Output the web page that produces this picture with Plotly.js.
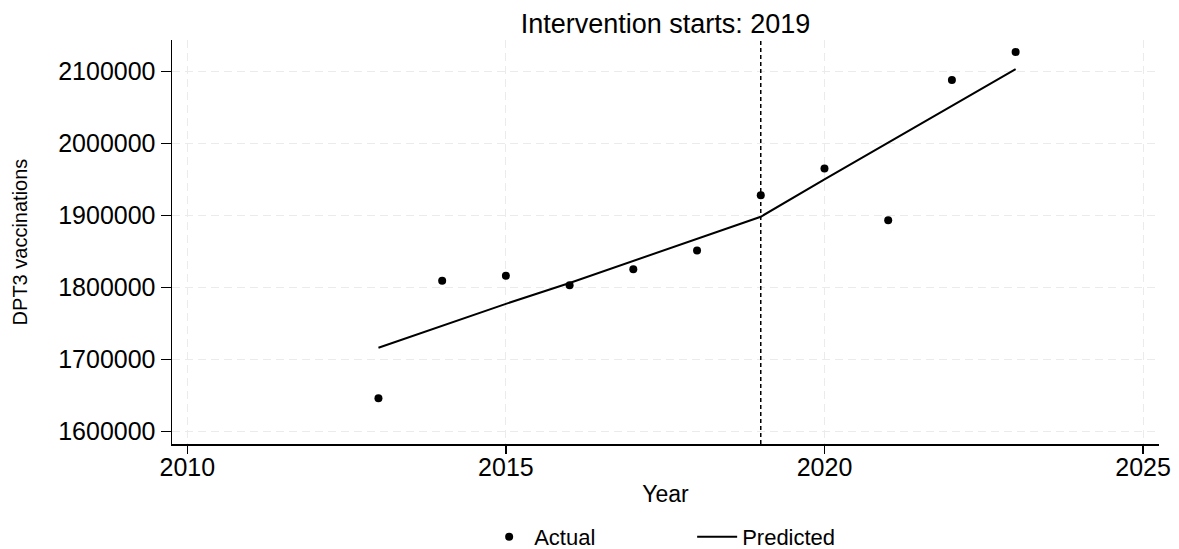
<!DOCTYPE html>
<html>
<head>
<meta charset="utf-8">
<script src="https://cdn.plot.ly/plotly-3.0.1.min.js"></script>
<style>
  html, body { margin: 0; padding: 0; background: #ffffff; }
  #chart { width: 1179px; height: 549px; }
</style>
</head>
<body>
<div id="chart"></div>
<script>
// ---- data ----
const years = [2013, 2014, 2015, 2016, 2017, 2018, 2019, 2020, 2021, 2022, 2023];
const actual = [1646000, 1809000, 1816000, 1803000, 1825000, 1851000, 1928000, 1965000, 1893000, 2088000, 2127000];
const predicted = [1716000, 1747000, 1777000, 1806000, 1837000, 1868000, 1898000, 1950000, 2001000, 2052000, 2103000];
const interventionYear = 2019;
const xTicks = [2010, 2015, 2020, 2025];
const yTicks = [1600000, 1700000, 1800000, 1900000, 2000000, 2100000];
const yTickText = ["1600000", "1700000", "1800000", "1900000", "2000000", "2100000"];

const FONT = "Liberation Sans, Arial, Helvetica, sans-serif";

const traces = [
  {
    x: years, y: actual, name: "Actual", type: "scatter", mode: "markers",
    marker: { color: "#000000", size: 8, symbol: "circle" }
  },
  {
    x: years, y: predicted, name: "Predicted", type: "scatter", mode: "lines",
    line: { color: "#000000", width: 2 }
  }
];

const layout = {
  width: 1179, height: 549,
  margin: { l: 172, r: 20, t: 40, b: 105, autoexpand: false },
  paper_bgcolor: "#ffffff", plot_bgcolor: "#ffffff",
  font: { family: FONT, color: "#000000", size: 20 },
  title: {
    text: "Intervention starts: " + interventionYear,
    font: { family: FONT, size: 27, color: "#000000" },
    x: 0.5, xref: "paper", xanchor: "center",
    y: 1 - 24 / 549, yref: "container", yanchor: "middle"
  },
  showlegend: true,
  legend: {
    orientation: "h", x: 0.527, xanchor: "center", xref: "paper",
    y: 12 / 549, yref: "container", yanchor: "middle",
    font: { family: FONT, size: 22, color: "#000000" },
    itemwidth: 40, traceorder: "normal", entrywidth: 153
  },
  xaxis: {
    range: [2009.76, 2025.25], automargin: false,
    tickvals: xTicks, ticktext: xTicks.map(String),
    ticks: "outside", ticklen: 8, tickwidth: 1.5, tickcolor: "#000000",
    ticklabelstandoff: -8,
    showline: true, linecolor: "#000000", linewidth: 1.5,
    showgrid: true, gridcolor: "#ebebeb", gridwidth: 1, griddash: "8px,5px",
    zeroline: false,
    tickfont: { family: FONT, size: 25, color: "#000000" },
    title: { text: "Year", font: { family: FONT, size: 23, color: "#000000" }, standoff: 6 }
  },
  yaxis: {
    range: [1582350, 2143500], automargin: false,
    tickvals: yTicks, ticktext: yTickText,
    ticks: "outside", ticklen: 10, tickwidth: 1.5, tickcolor: "#000000",
    showline: true, linecolor: "#000000", linewidth: 1.5,
    showgrid: true, gridcolor: "#ebebeb", gridwidth: 1, griddash: "8px,5px",
    zeroline: false,
    tickfont: { family: FONT, size: 25, color: "#000000" },
    title: { text: "DPT3 vaccinations", font: { family: FONT, size: 20, color: "#000000" }, standoff: 25 }
  },
  shapes: [
    {
      type: "line", xref: "x", yref: "paper",
      x0: interventionYear, x1: interventionYear, y0: 0, y1: 1,
      line: { color: "#000000", width: 1.5, dash: "4px,3px" }
    }
  ]
};

Plotly.newPlot("chart", traces, layout, { displayModeBar: false, staticPlot: true });
</script>
</body>
</html>
